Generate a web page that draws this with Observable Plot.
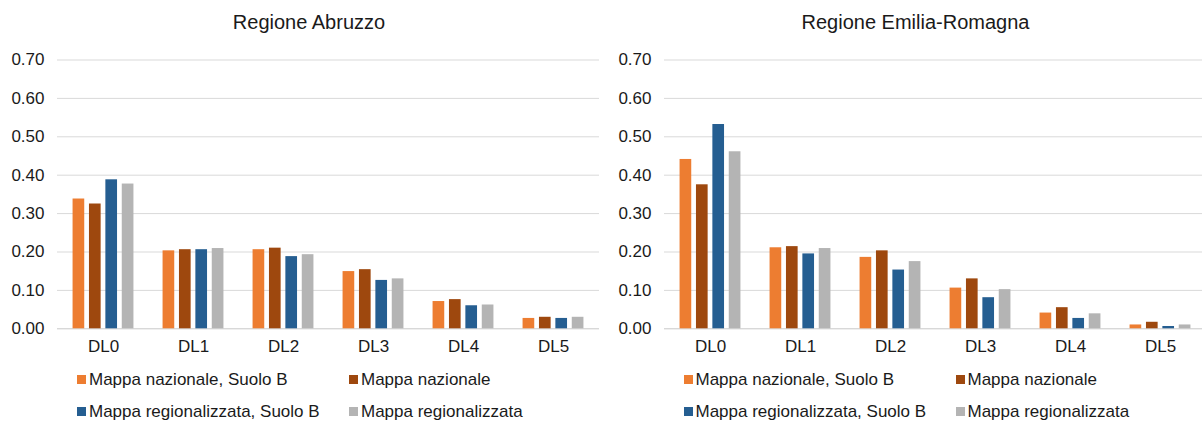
<!DOCTYPE html>
<html>
<head>
<meta charset="utf-8">
<script src="https://cdn.jsdelivr.net/npm/d3@7"></script>
<script src="https://cdn.jsdelivr.net/npm/@observablehq/plot@0.6"></script>
<style>
  html, body { margin: 0; padding: 0; background: #fff; }
  body { width: 1202px; height: 421px; overflow: hidden; position: relative;
         font-family: "Liberation Sans", Arial, sans-serif; color: #1a1a1a; }
  .panel { position: absolute; top: 0; width: 606px; height: 421px; }
  .title { position: absolute; top: 10px; left: 0; width: 618px; text-align: center;
           font-size: 20px; line-height: 24px; }
  .chart { position: absolute; top: 42px; left: 0; }
  .leg { position: absolute; font-size: 17px; line-height: 20px; white-space: nowrap; }
  .sw { position: absolute; width: 9px; height: 9px; }
</style>
</head>
<body>
<script>
const categories = ["DL0", "DL1", "DL2", "DL3", "DL4", "DL5"];
const seriesNames = ["Mappa nazionale, Suolo B", "Mappa nazionale", "Mappa regionalizzata, Suolo B", "Mappa regionalizzata"];
const seriesColors = ["#ED7D31", "#9E480E", "#255E91", "#B4B4B4"];
const yTicks = [0, 0.1, 0.2, 0.3, 0.4, 0.5, 0.6, 0.7];
const titles = ["Regione Abruzzo", "Regione Emilia-Romagna"];

// Regione Abruzzo
const abruzzoNazB = [0.338, 0.203, 0.206, 0.149, 0.071, 0.027];
const abruzzoNaz  = [0.325, 0.206, 0.210, 0.154, 0.076, 0.030];
const abruzzoRegB = [0.388, 0.206, 0.188, 0.126, 0.060, 0.027];
const abruzzoReg  = [0.377, 0.209, 0.193, 0.130, 0.062, 0.030];
// Regione Emilia-Romagna
const emiliaNazB = [0.441, 0.211, 0.186, 0.106, 0.041, 0.010];
const emiliaNaz  = [0.375, 0.214, 0.203, 0.130, 0.055, 0.017];
const emiliaRegB = [0.532, 0.195, 0.153, 0.081, 0.027, 0.006];
const emiliaReg  = [0.461, 0.209, 0.175, 0.102, 0.039, 0.010];

const panels = [
  [abruzzoNazB, abruzzoNaz, abruzzoRegB, abruzzoReg],
  [emiliaNazB, emiliaNaz, emiliaRegB, emiliaReg]
];

const W = 606, H = 318, mL = 57, mR = 7, mT = 17.5, mB = 31.7;
const bandW = (W - mL - mR) / categories.length;
const barW = 12, barStep = 16.4;
const inset = (bandW - barW) / 2;

panels.forEach((seriesArr, p) => {
  const panel = document.createElement("div");
  panel.className = "panel";
  panel.style.left = (p * 606.5) + "px";
  document.body.appendChild(panel);

  const t = document.createElement("div");
  t.className = "title";
  t.textContent = titles[p];
  panel.appendChild(t);

  const marks = [
    Plot.ruleY(yTicks.filter(d => d > 0), {stroke: "#d9d9d9", strokeWidth: 1}),
    Plot.ruleY([0], {stroke: "#c8c8c8", strokeWidth: 1})
  ];
  seriesArr.forEach((vals, i) => {
    const data = categories.map((c, j) => ({cat: c, value: vals[j]}));
    marks.push(Plot.barY(data, {
      x: "cat", y: "value", fill: seriesColors[i],
      dx: (i - 1.5) * barStep, insetLeft: inset, insetRight: inset
    }));
  });

  const svg = Plot.plot({
    width: W, height: H,
    marginLeft: mL, marginRight: mR, marginTop: mT, marginBottom: mB,
    style: {fontSize: "17px", fontFamily: "'Liberation Sans', Arial, sans-serif", color: "#1a1a1a", background: "transparent", overflow: "visible"},
    x: {type: "band", domain: categories, padding: 0, tickSize: 0, tickPadding: 11, label: null},
    y: {domain: [0, 0.7], ticks: yTicks, tickFormat: d3.format(".2f"), tickSize: 0, tickPadding: 13, label: null},
    marks
  });
  svg.classList.add("chart");
  panel.appendChild(svg);

  const pos = [[77, 375], [349, 375], [77, 407], [349, 407]];
  seriesNames.forEach((name, i) => {
    const sw = document.createElement("div");
    sw.className = "sw";
    sw.style.left = pos[i][0] + "px";
    sw.style.top = pos[i][1] + "px";
    sw.style.background = seriesColors[i];
    panel.appendChild(sw);
    const lab = document.createElement("div");
    lab.className = "leg";
    lab.style.left = (pos[i][0] + 12) + "px";
    lab.style.top = (pos[i][1] - 5.5) + "px";
    lab.textContent = name;
    panel.appendChild(lab);
  });
});
</script>
</body>
</html>
